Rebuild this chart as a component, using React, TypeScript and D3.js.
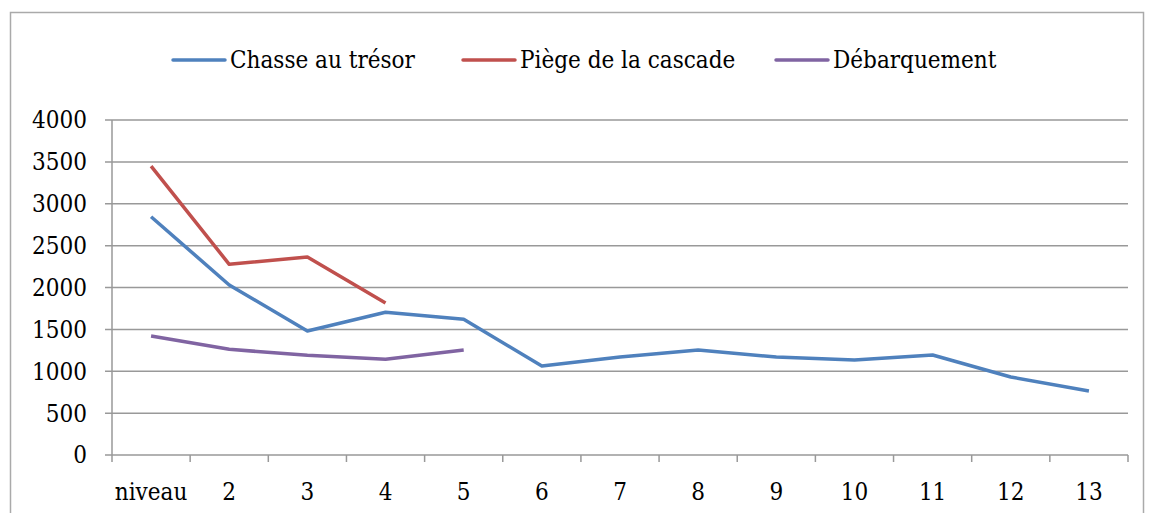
import * as React from 'react';
import * as d3 from 'd3';

const categories = ['niveau', '2', '3', '4', '5', '6', '7', '8', '9', '10', '11', '12', '13'];
const chasse = [2845, 2030, 1480, 1704, 1620, 1063, 1170, 1254, 1170, 1134, 1194, 931, 764];
const piege = [3450, 2277, 2364, 1815];
const debarquement = [1421, 1262, 1190, 1143, 1254];
const yTicks = [0, 500, 1000, 1500, 2000, 2500, 3000, 3500, 4000];

const seriesList = [
    { name: 'Chasse au trésor', values: chasse, color: '#4F81BD' },
    { name: 'Piège de la cascade', values: piege, color: '#C0504D' },
    { name: 'Débarquement', values: debarquement, color: '#8064A2' },
];

const W = 1154;
const H = 513;
const left = 112;
const right = 1128;
const top = 120;
const bottom = 455;
const font = '"DejaVu Serif Condensed", "DejaVu Serif", serif';
const grid = '#999';

export default function App() {
    const x = d3.scaleBand().domain(categories).range([left, right]);
    const y = d3.scaleLinear().domain([0, 4000]).range([bottom, top]);
    const line = d3.line<number>()
        .x((_, i) => (x(categories[i]) ?? 0) + x.bandwidth() / 2)
        .y(d => y(d));

    const legendX = [173, 463, 776];

    return (
        <svg width={W} height={H} style={{ position: 'absolute', left: 0, top: 0 }}>
            <rect x={0} y={0} width={W} height={H} fill="#fff" />
            <rect x={10.5} y={12.5} width={1133} height={560} fill="none" stroke="#aaa" strokeWidth={1.5} />
            {yTicks.map(t => (
                <g key={t}>
                    <line x1={left - 7} x2={right} y1={y(t)} y2={y(t)} stroke={grid} strokeWidth={1.5} />
                    <text x={87} y={y(t)} dy="0.35em" textAnchor="end" fontFamily={font} fontSize={24}>{t}</text>
                </g>
            ))}
            <line x1={left} x2={left} y1={top} y2={bottom} stroke={grid} strokeWidth={1.5} />
            {categories.map(c => (
                <line key={'t' + c} x1={x(c) ?? 0} x2={x(c) ?? 0} y1={bottom} y2={bottom + 7} stroke={grid} strokeWidth={1.5} />
            ))}
            <line x1={right} x2={right} y1={bottom} y2={bottom + 7} stroke={grid} strokeWidth={1.5} />
            {categories.map(c => (
                <text key={c} x={(x(c) ?? 0) + x.bandwidth() / 2} y={500} textAnchor="middle" fontFamily={font} fontSize={24}>{c}</text>
            ))}
            {seriesList.map(s => (
                <path key={s.name} d={line(s.values) ?? ''} fill="none" stroke={s.color} strokeWidth={3.5} strokeLinejoin="round" />
            ))}
            {seriesList.map((s, i) => (
                <g key={'l' + s.name}>
                    <line x1={legendX[i]} x2={legendX[i] + 52} y1={60} y2={60} stroke={s.color} strokeWidth={3.5} strokeLinecap="round" />
                    <text x={legendX[i] + 57} y={60} dy="0.35em" fontFamily={font} fontSize={24}>{s.name}</text>
                </g>
            ))}
        </svg>
    );
}
